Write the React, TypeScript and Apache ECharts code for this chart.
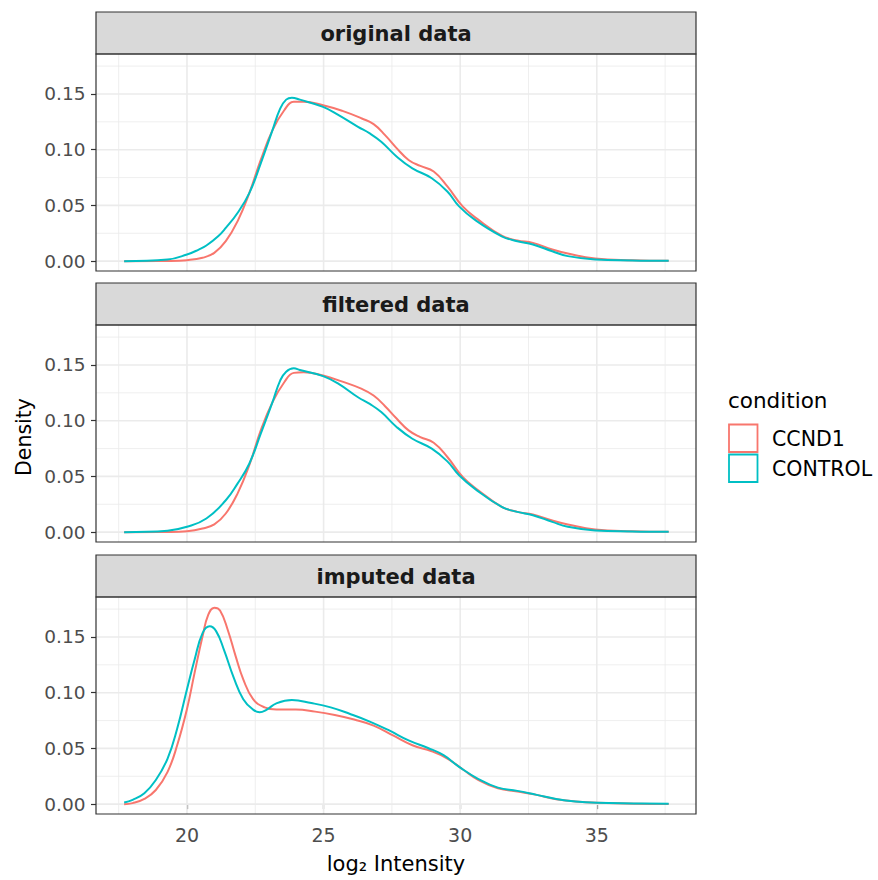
import React, { useEffect, useRef } from "react";
import * as echarts from "echarts";

// ---------- data ----------
const panelTitles = ["original data", "filtered data", "imputed data"];
const conditions = ["CCND1", "CONTROL"];
const conditionColors = ["#F8766D", "#00BFC4"];

const xBreaks = [20, 25, 30, 35];
const xMinorBreaks = [17.5, 22.5, 27.5, 32.5, 37.5];
const yBreaks = [0, 0.05, 0.1, 0.15];
const yMinorBreaks = [0.025, 0.075, 0.125, 0.175];

const originalCCND1: [number, number][] = [
  [17.7, 0], [19.3, 0.0002], [20.0, 0.0009], [20.57, 0.003], [21.0, 0.0074], [21.42, 0.0179],
  [21.85, 0.0357], [22.28, 0.061], [22.7, 0.0908], [23.13, 0.1176], [23.56, 0.1354],
  [23.91, 0.1429], [24.27, 0.1429], [24.98, 0.1399], [25.69, 0.1348], [26.4, 0.128],
  [26.83, 0.1229], [27.25, 0.1131], [27.68, 0.1012], [28.11, 0.0908], [28.54, 0.0854],
  [29.03, 0.0804], [29.53, 0.067], [30.09, 0.0491], [30.66, 0.0372], [31.52, 0.0229],
  [32.09, 0.0185], [32.66, 0.0164], [33.37, 0.0104], [33.94, 0.0068], [34.94, 0.0024],
  [36.3, 0.0008], [37.63, 0.0003],
];
const originalCONTROL: [number, number][] = [
  [17.7, 0], [19.29, 0.0015], [20.0, 0.006], [20.43, 0.0104], [20.71, 0.014], [21.14, 0.0223],
  [21.42, 0.0298], [21.85, 0.0432], [22.28, 0.061], [22.7, 0.0878], [23.13, 0.1176],
  [23.41, 0.1369], [23.63, 0.1449], [23.84, 0.1467], [24.13, 0.1449], [24.98, 0.1384],
  [25.55, 0.131], [26.26, 0.1205], [26.69, 0.1146], [27.11, 0.1071], [27.68, 0.0937],
  [28.25, 0.0833], [28.96, 0.0744], [29.53, 0.0625], [29.96, 0.0491], [30.53, 0.0372],
  [31.52, 0.0223], [32.09, 0.0179], [32.66, 0.0149], [33.37, 0.0089], [33.94, 0.0045],
  [34.94, 0.0015], [36.3, 0.0006], [37.63, 0.0003],
];

const filteredCCND1: [number, number][] = [
  [17.7, 0], [19.3, 0.0002], [20.0, 0.0009], [20.57, 0.0033], [21.0, 0.0069], [21.42, 0.0167],
  [21.85, 0.0346], [22.28, 0.06], [22.7, 0.0913], [23.13, 0.1166], [23.56, 0.1345],
  [23.91, 0.1429], [24.27, 0.1435], [24.98, 0.1405], [25.69, 0.135], [26.4, 0.1285],
  [26.83, 0.1226], [27.25, 0.113], [27.68, 0.1017], [28.11, 0.0913], [28.54, 0.0853],
  [29.03, 0.0802], [29.53, 0.0674], [30.09, 0.0495], [30.66, 0.0376], [31.52, 0.0227],
  [32.09, 0.0182], [32.66, 0.0158], [33.37, 0.0104], [33.94, 0.0069], [34.94, 0.0024],
  [36.3, 0.0008], [37.63, 0.0003],
];
const filteredCONTROL: [number, number][] = [
  [17.7, 0], [19.29, 0.0013], [20.0, 0.0048], [20.71, 0.0122], [21.42, 0.0286],
  [21.85, 0.0435], [22.28, 0.0614], [22.7, 0.0883], [23.13, 0.1166], [23.41, 0.136],
  [23.63, 0.144], [23.91, 0.147], [24.13, 0.1455], [24.98, 0.14], [25.55, 0.133],
  [26.26, 0.121], [26.69, 0.115], [27.11, 0.1077], [27.68, 0.0942], [28.25, 0.0838],
  [28.96, 0.0749], [29.53, 0.0635], [29.96, 0.051], [30.53, 0.039], [31.52, 0.0227],
  [32.09, 0.0182], [32.66, 0.0152], [33.37, 0.0092], [33.94, 0.0048], [34.94, 0.0015],
  [36.3, 0.0006], [37.63, 0.0003],
];

const imputedCCND1: [number, number][] = [
  [17.7, 0], [18.01, 0.0009], [18.44, 0.0047], [18.86, 0.0127], [19.29, 0.029], [19.64, 0.0528],
  [20.0, 0.0854], [20.28, 0.118], [20.57, 0.1506], [20.78, 0.17], [21.0, 0.1763],
  [21.21, 0.1737], [21.49, 0.1565], [21.78, 0.1328], [22.06, 0.112], [22.42, 0.0942],
  [22.84, 0.0868], [23.27, 0.0848], [23.98, 0.0848], [24.69, 0.083], [25.41, 0.08],
  [26.12, 0.0759], [26.83, 0.0705], [27.54, 0.0616], [28.25, 0.0528], [28.96, 0.0474],
  [29.53, 0.0409], [30.1, 0.0311], [30.67, 0.0216], [31.38, 0.0142], [32.09, 0.0113],
  [32.8, 0.0083], [33.51, 0.0044], [34.22, 0.0024], [35.0, 0.0012], [36.36, 0.0003],
  [37.63, 0.0001],
];
const imputedCONTROL: [number, number][] = [
  [17.7, 0.0015], [18.01, 0.0039], [18.44, 0.0098], [18.86, 0.0216], [19.29, 0.0409],
  [19.64, 0.0676], [20.0, 0.1031], [20.28, 0.1298], [20.57, 0.1535], [20.83, 0.1595],
  [21.07, 0.155], [21.35, 0.1387], [21.71, 0.1135], [22.06, 0.0942], [22.42, 0.0848],
  [22.66, 0.0824], [22.92, 0.0848], [23.27, 0.0904], [23.84, 0.0934], [24.55, 0.0907],
  [25.26, 0.0868], [25.97, 0.0809], [26.69, 0.0741], [27.4, 0.0661], [28.11, 0.0572],
  [28.82, 0.0504], [29.39, 0.0439], [29.96, 0.0335], [30.67, 0.0225], [31.38, 0.0148],
  [32.09, 0.0119], [32.8, 0.0083], [33.51, 0.0047], [34.22, 0.0024], [35.0, 0.0012],
  [36.36, 0.0006], [37.63, 0.0003],
];

const panelData = [
  [originalCCND1, originalCONTROL],
  [filteredCCND1, filteredCONTROL],
  [imputedCCND1, imputedCONTROL],
];

// ---------- layout ----------
const X_MIN = 16.67;
const X_MAX = 38.63;
const Y_MIN = -0.00885;
const Y_MAX = 0.18585;
const PANEL_LEFT = 96;
const PANEL_WIDTH = 600;
const PANEL_HEIGHT = 217;
const PANEL_TOPS = [54, 325, 597];
const STRIP_HEIGHT = 42;
const FONT = "DejaVu Sans";

export default function App() {
  const ref = useRef<HTMLDivElement>(null);

  useEffect(() => {
    if (!ref.current) return;
    const chart = echarts.init(ref.current, undefined, { renderer: "svg" });

    const gridData: number[][] = [
      ...xBreaks.map((v) => [v, 0, 1]),
      ...xMinorBreaks.map((v) => [v, 0, 0]),
      ...yBreaks.map((v) => [v, 1, 1]),
      ...yMinorBreaks.map((v) => [v, 1, 0]),
    ];

    const grids: any[] = [];
    const xAxes: any[] = [];
    const yAxes: any[] = [];
    const series: any[] = [];
    const graphics: any[] = [];

    PANEL_TOPS.forEach((top, i) => {
      const isBottom = i === PANEL_TOPS.length - 1;
      grids.push({
        left: PANEL_LEFT,
        top,
        width: PANEL_WIDTH,
        height: PANEL_HEIGHT,
        show: false,
        containLabel: false,
        outerBoundsMode: "none",
      });
      xAxes.push({
        gridIndex: i,
        type: "value",
        min: X_MIN,
        max: X_MAX,
        axisLine: { show: false },
        splitLine: { show: false },
        axisTick: {
          show: isBottom,
          length: 5,
          customValues: xBreaks,
          lineStyle: { color: "#333333", width: 1.2 },
        },
        axisLabel: {
          show: isBottom,
          customValues: xBreaks,
          margin: 11,
          fontSize: 19,
          fontFamily: FONT,
          color: "#4D4D4D",
        },
      });
      yAxes.push({
        gridIndex: i,
        type: "value",
        min: Y_MIN,
        max: Y_MAX,
        axisLine: { show: false },
        splitLine: { show: false },
        axisTick: {
          show: true,
          length: 5,
          customValues: yBreaks,
          lineStyle: { color: "#333333", width: 1.2 },
        },
        axisLabel: {
          customValues: yBreaks,
          margin: 10.5,
          fontSize: 18.5,
          fontFamily: FONT,
          color: "#4D4D4D",
          formatter: (v: number) => v.toFixed(2),
        },
      });

      // grid lines through the axes' scales
      series.push({
        type: "custom",
        xAxisIndex: i,
        yAxisIndex: i,
        silent: true,
        z: 1,
        data: gridData,
        renderItem: (params: any, api: any) => {
          const v = api.value(0);
          const kind = api.value(1);
          const major = api.value(2) === 1;
          const cs = params.coordSys;
          const style = {
            stroke: "#EBEBEB",
            lineWidth: major ? 1.6 : 0.8,
          };
          if (kind === 0) {
            const p = api.coord([v, 0]);
            return {
              type: "line",
              shape: { x1: p[0], y1: cs.y, x2: p[0], y2: cs.y + cs.height },
              style,
            };
          }
          const p = api.coord([X_MIN, v]);
          return {
            type: "line",
            shape: { x1: cs.x, y1: p[1], x2: cs.x + cs.width, y2: p[1] },
            style,
          };
        },
      });

      panelData[i].forEach((d, k) => {
        series.push({
          name: conditions[k],
          type: "line",
          xAxisIndex: i,
          yAxisIndex: i,
          data: d,
          smooth: 0.45,
          showSymbol: false,
          symbol: "none",
          z: 2 + k,
          lineStyle: { color: conditionColors[k], width: 2 },
          itemStyle: { color: conditionColors[k] },
        });
      });

      // strip
      graphics.push({
        type: "rect",
        z: 100,
        shape: { x: PANEL_LEFT, y: top - STRIP_HEIGHT, width: PANEL_WIDTH, height: STRIP_HEIGHT },
        style: { fill: "#D9D9D9", stroke: "#333333", lineWidth: 1.2 },
      });
      graphics.push({
        type: "text",
        z: 101,
        x: PANEL_LEFT + PANEL_WIDTH / 2,
        y: top - STRIP_HEIGHT / 2 + 0.9,
        style: {
          text: panelTitles[i],
          fill: "#1A1A1A",
          fontSize: 21,
          fontWeight: "bold",
          fontFamily: FONT,
          align: "center",
          verticalAlign: "middle",
        },
      });
      // panel border
      graphics.push({
        type: "rect",
        z: 100,
        shape: { x: PANEL_LEFT, y: top, width: PANEL_WIDTH, height: PANEL_HEIGHT },
        style: { fill: "none", stroke: "#333333", lineWidth: 1.2 },
      });
    });

    // axis titles
    graphics.push({
      type: "text",
      z: 101,
      x: 396,
      y: 863.5,
      style: {
        text: "log\u2082 Intensity",
        fill: "#000000",
        fontSize: 21,
        fontFamily: FONT,
        align: "center",
        verticalAlign: "middle",
      },
    });
    graphics.push({
      type: "text",
      z: 101,
      x: 24,
      y: 437,
      rotation: Math.PI / 2,
      style: {
        text: "Density",
        fill: "#000000",
        fontSize: 20.5,
        fontFamily: FONT,
        align: "center",
        verticalAlign: "middle",
      },
    });

    // legend
    graphics.push({
      type: "text",
      z: 101,
      x: 728,
      y: 400,
      style: {
        text: "condition",
        fill: "#000000",
        fontSize: 21.5,
        fontFamily: FONT,
        align: "left",
        verticalAlign: "middle",
      },
    });
    conditions.forEach((c, k) => {
      const y0 = 424.5 + k * 30;
      graphics.push({
        type: "rect",
        z: 101,
        shape: { x: 729, y: y0, width: 28.5, height: 27.5 },
        style: { fill: "#FFFFFF", stroke: conditionColors[k], lineWidth: 1.8 },
      });
      graphics.push({
        type: "text",
        z: 101,
        x: 772,
        y: y0 + 14,
        style: {
          text: c,
          fill: "#000000",
          fontSize: 20.5,
          fontFamily: FONT,
          align: "left",
          verticalAlign: "middle",
        },
      });
    });

    chart.setOption({
      animation: false,
      backgroundColor: "#FFFFFF",
      grid: grids,
      xAxis: xAxes,
      yAxis: yAxes,
      series,
      graphic: { elements: graphics },
    });

    return () => {
      chart.dispose();
    };
  }, []);

  return (
    <div
      ref={ref}
      style={{ position: "fixed", left: 0, top: 0, width: 878, height: 880 }}
    />
  );
}
